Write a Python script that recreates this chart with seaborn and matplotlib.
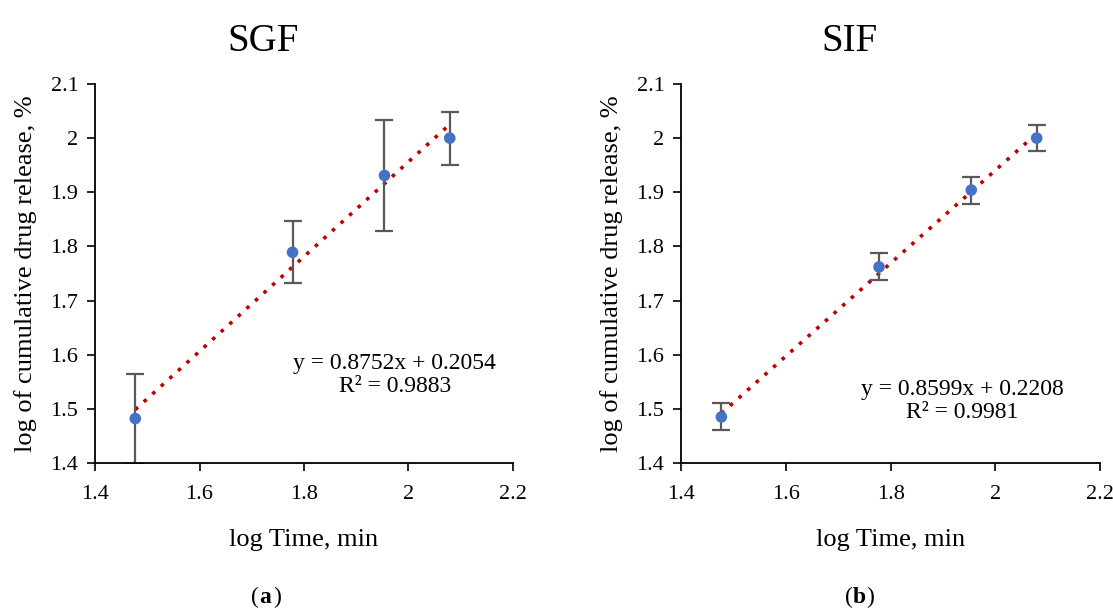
import matplotlib
matplotlib.use("Agg")
import matplotlib.pyplot as plt
import numpy as np
import pandas as pd
import seaborn as sns

# 數據
log_time = [1.477, 1.778, 1.954, 2.079]
sgf_release = [1.482, 1.789, 1.931, 2.000]
sgf_err = [0.083, 0.057, 0.103, 0.049]
sif_release = [1.485, 1.762, 1.904, 2.000]
sif_err = [0.025, 0.025, 0.025, 0.024]

panel_titles = ["SGF", "SIF"]
panel_tags = ["a", "b"]
equations = ["y = 0.8752x + 0.2054\nR² = 0.9883", "y = 0.8599x + 0.2208\nR² = 0.9981"]
eq_pos = [(1.974, 1.562), (1.937, 1.515)]

x_ticks = [1.4, 1.6, 1.8, 2.0, 2.2]
x_tick_labels = ["1.4", "1.6", "1.8", "2", "2.2"]
y_ticks = [1.4, 1.5, 1.6, 1.7, 1.8, 1.9, 2.0, 2.1]
y_tick_labels = ["1.4", "1.5", "1.6", "1.7", "1.8", "1.9", "2", "2.1"]

SERIF = ["Liberation Serif", "DejaVu Serif"]

sns.set_style("ticks")
plt.rcParams["font.family"] = SERIF
plt.rcParams.update({
    "text.color": "black",
    "axes.labelcolor": "black",
    "xtick.color": "black",
    "ytick.color": "black",
})

fig = plt.figure(figsize=(11.13, 6.15), dpi=100)
axes = [
    fig.add_axes([0.0854, 0.2472, 0.3755, 0.6163]),
    fig.add_axes([0.6119, 0.2472, 0.3765, 0.6163]),
]

series = [(sgf_release, sgf_err), (sif_release, sif_err)]

for i, ax in enumerate(axes):
    y, err = series[i]
    df = pd.DataFrame({"x": log_time, "y": y})

    # 趨勢線（線性擬合）
    sns.regplot(
        data=df, x="x", y="y", ax=ax, ci=None, scatter=False, truncate=True,
        line_kws={"color": "#C00000", "linestyle": (0, (1, 2.2)), "linewidth": 2.6},
    )
    ax.errorbar(
        log_time, y, yerr=err, fmt="none", ecolor="#595959",
        elinewidth=1.6, capsize=6.5, capthick=1.6, zorder=2,
    )
    sns.scatterplot(
        data=df, x="x", y="y", ax=ax, color="#4472C4", s=70,
        edgecolor="none", zorder=3,
    )

    ax.set_xlim(1.4, 2.2)
    ax.set_ylim(1.4, 2.1)
    ax.tick_params(axis="both", length=6, width=1.2, color="black")
    ax.tick_params(axis="x", pad=10)
    ax.tick_params(axis="y", pad=6)
    ax.set_xticks(x_ticks)
    ax.set_xticklabels(x_tick_labels, fontsize=16, family=SERIF, color="black")
    ax.set_yticks(y_ticks)
    ax.set_yticklabels(y_tick_labels, fontsize=16, family=SERIF, color="black")
    for side in ["left", "bottom"]:
        ax.spines[side].set_linewidth(1.3)
        ax.spines[side].set_color("black")
    sns.despine(ax=ax)

    ax.set_xlabel("log Time, min", fontsize=19, labelpad=18)
    ax.set_ylabel("log of cumulative drug release, %", fontsize=19, labelpad=10)
    ax.set_title(panel_titles[i], fontsize=28, pad=24, color="black", x=0.403)

    ax.text(
        eq_pos[i][0], eq_pos[i][1], equations[i], fontsize=17, ha="center",
        va="center", multialignment="center", linespacing=1.15, color="black",
    )

# 子圖標籤
for tag, xc in zip(panel_tags, [0.233, 0.766]):
    fig.text(xc, 0.012, "(", fontsize=17, ha="right", va="bottom")
    fig.text(xc, 0.012, tag, fontsize=17, fontweight="bold", ha="left", va="bottom")
    fig.text(xc + 0.0125, 0.012, ")", fontsize=17, ha="left", va="bottom")

plt.savefig("out.png", dpi=100)
plt.close()
